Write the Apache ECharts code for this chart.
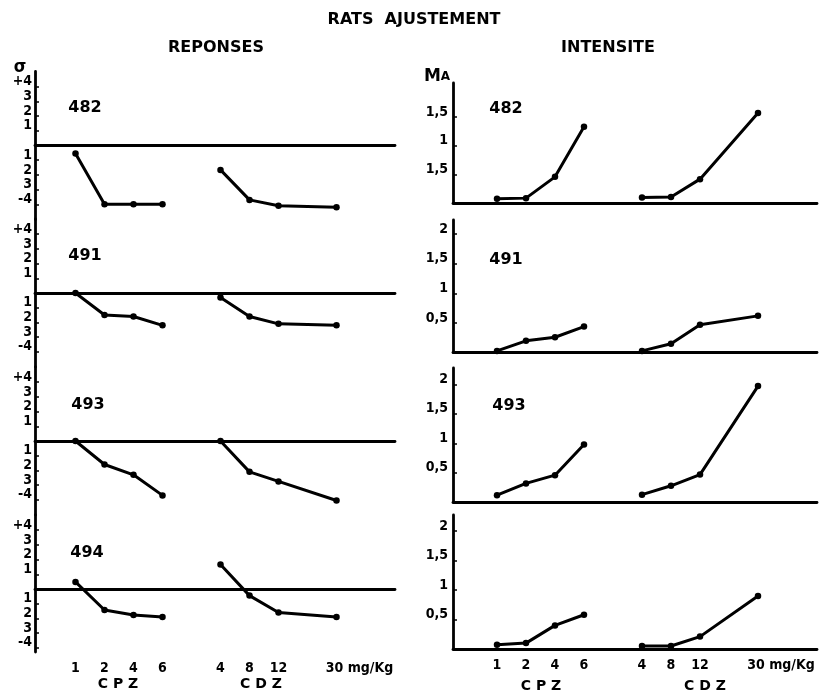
<!DOCTYPE html>
<html><head><meta charset="utf-8">
<script src="https://cdn.jsdelivr.net/npm/echarts@6/dist/echarts.min.js"></script>
<style>html,body{margin:0;padding:0;background:#fff}#c{width:828px;height:691px}</style>
</head><body><div id="c"></div>
<script>
// ---- data ----
const rats = ['482', '491', '493', '494'];
const cpzDoses = ['1', '2', '4', '6'];
const cdzDoses = ['4', '8', '12', '30'];
const cpzSlots = [0, 1, 2, 3];
const cdzSlots = [5, 6, 7, 9];
const sigmaTicks = [-4, -3, -2, -1, 0, 1, 2, 3, 4];
const sigmaTickLabels = ['-4', '3', '2', '1', '', '1', '2', '3', '+4'];
const maTicks = [0.5, 1, 1.5, 2];
const maTickLabels = ['0,5', '1', '1,5', '2'];
const maTicks482 = [0.5, 1, 1.5];
const maTickLabels482 = ['1,5', '1', '1,5'];
// REPONSES (sigma)
const rep482CPZ = [-0.55, -4.0, -4.0, -4.0];
const rep482CDZ = [-1.66, -3.7, -4.1, -4.2];
const rep491CPZ = [0, -1.5, -1.6, -2.2];
const rep491CDZ = [-0.3, -1.6, -2.1, -2.2];
const rep493CPZ = [0, -1.6, -2.3, -3.7];
const rep493CDZ = [0, -2.1, -2.75, -4.05];
const rep494CPZ = [0.48, -1.43, -1.77, -1.9];
const rep494CDZ = [1.66, -0.45, -1.6, -1.9];
// INTENSITE (mA)
const int482CPZ = [0.08, 0.09, 0.46, 1.33];
const int482CDZ = [0.1, 0.11, 0.42, 1.57];
const int491CPZ = [0.03, 0.2, 0.26, 0.44];
const int491CDZ = [0.03, 0.15, 0.47, 0.62];
const int493CPZ = [0.12, 0.32, 0.46, 0.98];
const int493CDZ = [0.13, 0.28, 0.47, 1.97];
const int494CPZ = [0.07, 0.1, 0.4, 0.58];
const int494CDZ = [0.05, 0.05, 0.21, 0.9];

const repCPZ = [rep482CPZ, rep491CPZ, rep493CPZ, rep494CPZ];
const repCDZ = [rep482CDZ, rep491CDZ, rep493CDZ, rep494CDZ];
const intCPZ = [int482CPZ, int491CPZ, int493CPZ, int494CPZ];
const intCDZ = [int482CDZ, int491CDZ, int493CDZ, int494CDZ];

// ---- layout ----
const FONT = '"DejaVu Sans Condensed", "Liberation Sans Narrow", "DejaVu Sans", sans-serif';
const WIDEFONT = '"DejaVu Sans", sans-serif';
const BLACK = '#000';
const leftZero = [145.5, 293, 441, 589];
const leftUnit = 14.7;
const leftBottomExt = [74, 74, 74, 63];
const rightZero = [203.3, 352.7, 502.3, 649];
const rightTop = [83, 220, 368, 515];
const rightUnit = [57.5, 59.4, 59, 59];
const LX0 = 35, LX1 = 395, LP0 = 75.5, STEP = 29;
const RX0 = 453, RX1 = 817, RP0 = 497;

const slotLabel = {};
cpzSlots.forEach((s, i) => slotLabel[s] = cpzDoses[i]);
cdzSlots.forEach((s, i) => slotLabel[s] = cdzDoses[i]);
const lastSlot = cdzSlots[cdzSlots.length - 1];

function xLabelFmt(v) {
  const t = slotLabel[Math.round(v)];
  if (t === undefined) return '';
  if (Math.round(v) === lastSlot) return '{u|' + t + ' mg/Kg}';
  return t;
}

const grids = [], xAxes = [], yAxes = [], series = [];
const lineStyle = { color: BLACK, width: 3 };

function addPanel(idx, isLeft, bottom) {
  const gi = grids.length;
  let top, height, ymin, ymax;
  if (isLeft) {
    top = leftZero[idx] - 74;
    height = 74 + leftBottomExt[idx];
    ymax = 74 / leftUnit;
    ymin = -leftBottomExt[idx] / leftUnit;
    grids.push({ left: LX0, top: top, width: LX1 - LX0, height: height });
  } else {
    top = rightTop[idx];
    height = rightZero[idx] - top;
    ymin = 0;
    ymax = height / rightUnit[idx];
    grids.push({ left: RX0, top: top, width: RX1 - RX0, height: height });
  }
  const x0 = isLeft ? LX0 : RX0, x1 = isLeft ? LX1 : RX1, p0 = isLeft ? LP0 : RP0;
  xAxes.push({
    type: 'value', gridIndex: gi,
    min: (x0 - p0) / STEP, max: (x1 - p0) / STEP,
    axisLine: { show: true, onZero: true, lineStyle: { color: BLACK, width: 2.8 } },
    axisTick: { show: false },
    splitLine: { show: false },
    axisLabel: {
      show: bottom,
      customValues: cpzSlots.concat(cdzSlots),
      formatter: xLabelFmt,
      color: BLACK, fontFamily: FONT, fontWeight: 'bold', fontSize: 14, margin: 9,
      rich: { u: { fontFamily: FONT, fontWeight: 'bold', fontSize: 14, color: BLACK, padding: [0, 0, 0, 46] } }
    }
  });
  let tv, tl;
  if (isLeft) { tv = sigmaTicks; tl = sigmaTickLabels; }
  else if (idx === 0) { tv = maTicks482; tl = maTickLabels482; }
  else { tv = maTicks; tl = maTickLabels; }
  yAxes.push({
    type: 'value', gridIndex: gi, min: ymin, max: ymax,
    axisLine: { show: true, onZero: false, lineStyle: { color: BLACK, width: 2.8 } },
    axisTick: { show: true, inside: true, length: 4, customValues: tv, lineStyle: { color: BLACK, width: 1.5 } },
    splitLine: { show: false },
    axisLabel: {
      customValues: tv,
      formatter: v => { const k = tv.findIndex(t => Math.abs(t - v) < 1e-6); return k < 0 ? '' : tl[k]; },
      color: BLACK, fontFamily: FONT, fontWeight: 'bold', fontSize: 14,
      margin: isLeft ? 3 : 5, verticalAlign: 'bottom', lineHeight: 10
    }
  });
  const cpz = isLeft ? repCPZ[idx] : intCPZ[idx];
  const cdz = isLeft ? repCDZ[idx] : intCDZ[idx];
  [[cpzSlots, cpz], [cdzSlots, cdz]].forEach(([slots, vals]) => {
    series.push({
      type: 'line', xAxisIndex: gi, yAxisIndex: gi,
      data: slots.map((s, i) => [s, vals[i]]),
      symbol: 'circle', symbolSize: 6.5, showSymbol: true,
      itemStyle: { color: BLACK }, lineStyle: lineStyle,
      silent: true, animation: false
    });
  });
}

for (let i = 0; i < 4; i++) { addPanel(i, true, i === 3); addPanel(i, false, i === 3); }

function txt(x, y, s, size, family) {
  return {
    type: 'text', x: x, y: y, silent: true,
    style: {
      text: s, fill: BLACK, fontFamily: family || FONT, fontWeight: 'bold', fontSize: size,
      textAlign: 'center', textVerticalAlign: 'middle', align: 'center', verticalAlign: 'middle'
    }
  };
}

const ratLabelPos = [
  [[85, 108], [506, 109]],
  [[85, 256], [506, 260]],
  [[88, 405], [509, 406]],
  [[87, 553], null]
];

const graphics = [
  txt(414, 20, 'RATS  AJUSTEMENT', 16, WIDEFONT),
  txt(216, 48, 'REPONSES', 16, WIDEFONT),
  txt(608, 48, 'INTENSITE', 16, WIDEFONT),
  txt(20, 67, 'σ', 18),
  { type: 'text', x: 437, y: 77, silent: true,
    style: { text: '{m|M}{a|A}', fill: BLACK, textAlign: 'center', textVerticalAlign: 'middle', align: 'center', verticalAlign: 'middle',
      rich: { m: { fontFamily: WIDEFONT, fontWeight: 'bold', fontSize: 17, fill: BLACK }, a: { fontFamily: WIDEFONT, fontWeight: 'bold', fontSize: 12, fill: BLACK } } } },
  txt(118, 684, 'C P Z', 14, WIDEFONT),
  txt(261, 684, 'C D Z', 14, WIDEFONT),
  txt(541, 686, 'C P Z', 14, WIDEFONT),
  txt(705, 686, 'C D Z', 14, WIDEFONT)
];
ratLabelPos.forEach((pp, i) => {
  pp.forEach(p => { if (p) graphics.push(txt(p[0], p[1], rats[i], 16, WIDEFONT)); });
});

const chart = echarts.init(document.getElementById('c'), null, { renderer: 'canvas' });
chart.setOption({
  backgroundColor: '#fff',
  animation: false,
  grid: grids, xAxis: xAxes, yAxis: yAxes, series: series,
  graphic: graphics
});
</script></body></html>
